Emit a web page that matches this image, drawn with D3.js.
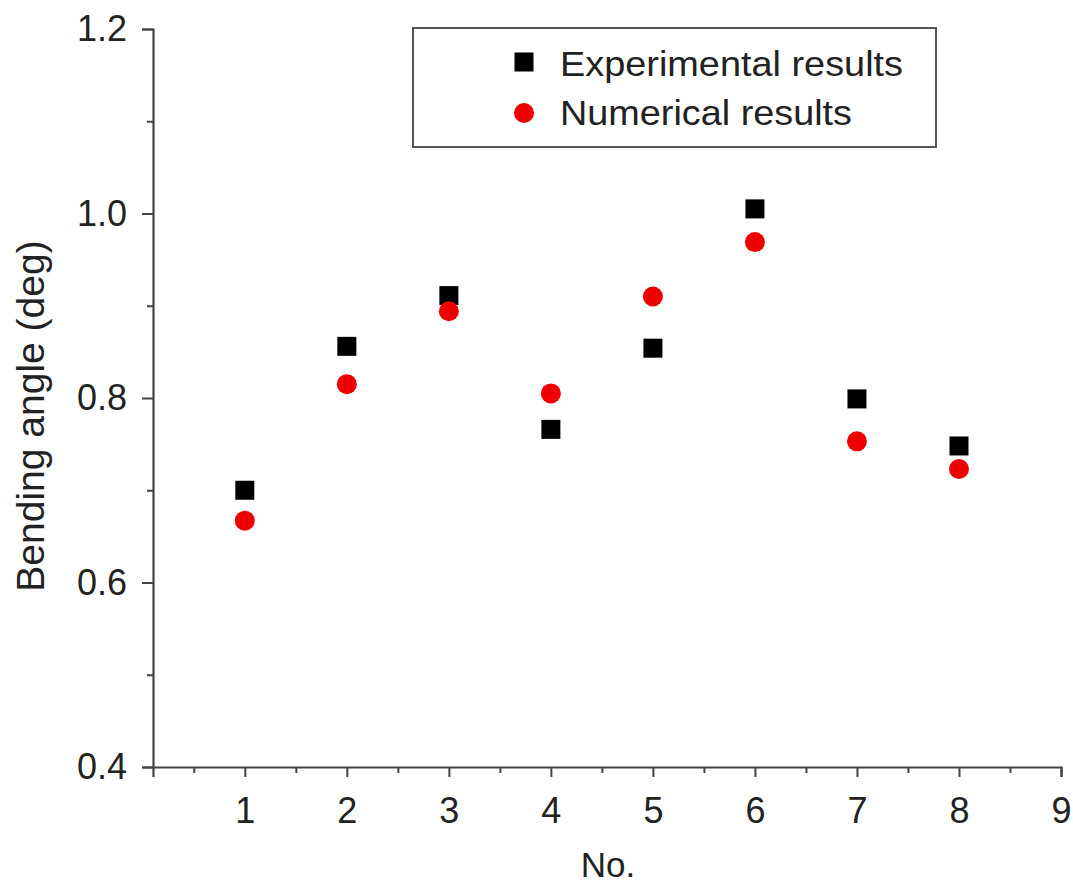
<!DOCTYPE html>
<html>
<head>
<meta charset="utf-8">
<script src="https://cdn.jsdelivr.net/npm/d3@7"></script>
<style>
  html, body { margin: 0; padding: 0; background: #fff; }
  text { font-family: "Liberation Sans", Arial, sans-serif; fill: #222; }
</style>
</head>
<body>
<svg id="chart" width="1073" height="884"></svg>
<script>
// Specimen numbers and bending angles (deg)
const specimens = [1, 2, 3, 4, 5, 6, 7, 8];
const experimental = [0.700, 0.856, 0.911, 0.766, 0.854, 1.005, 0.799, 0.748];
const numerical = [0.667, 0.815, 0.894, 0.805, 0.910, 0.969, 0.753, 0.723];
const xTicks = [1, 2, 3, 4, 5, 6, 7, 8, 9];
const yTicks = [0.4, 0.6, 0.8, 1.0, 1.2];
const seriesNames = ["Experimental results", "Numerical results"];

(function draw() {
  const svg = d3.select("#chart");
  const m = { left: 153, right: 1061, top: 29, bottom: 767 };

  const x = d3.scaleLinear().domain([0.1, 9]).range([m.left, m.right]);
  const y = d3.scaleLinear().domain([0.4, 1.2]).range([m.bottom, m.top]);

  const axisColor = "#444";

  // Minor ticks (half steps)
  const xMinor = d3.range(0.5, 9, 1);
  const yMinor = [0.5, 0.7, 0.9, 1.1];

  const gx = svg.append("g").attr("transform", `translate(0,${m.bottom})`);
  gx.call(d3.axisBottom(x).tickValues(xTicks).tickFormat(d3.format("d")).tickSizeOuter(0).tickSize(10).tickPadding(20));
  gx.append("g").call(d3.axisBottom(x).tickValues(xMinor).tickFormat("").tickSize(6).tickSizeOuter(0))
    .select(".domain").remove();

  const gy = svg.append("g").attr("transform", `translate(${m.left},0)`);
  gy.call(d3.axisLeft(y).tickValues(yTicks).tickFormat(d3.format(".1f")).tickSizeOuter(0).tickSize(11).tickPadding(15));
  gy.append("g").call(d3.axisLeft(y).tickValues(yMinor).tickFormat("").tickSize(6).tickSizeOuter(0))
    .select(".domain").remove();

  svg.selectAll(".domain").attr("stroke", axisColor).attr("stroke-width", 2.2);
  svg.selectAll(".tick line").attr("stroke", axisColor).attr("stroke-width", 2);
  svg.selectAll(".tick text").attr("font-size", 36).attr("fill", "#2a2a2a")
    .attr("font-family", '"Liberation Sans", Arial, sans-serif');

  // Axis titles
  svg.append("text")
    .attr("x", 608).attr("y", 877)
    .attr("text-anchor", "middle").attr("font-size", 35)
    .text("No.");

  svg.append("text")
    .attr("transform", `translate(44,416) rotate(-90)`)
    .attr("text-anchor", "middle").attr("font-size", 39)
    .text("Bending angle (deg)");

  // Markers
  const sq = 19, rad = 10;
  svg.append("g").selectAll("rect").data(specimens).join("rect")
    .attr("x", (d) => x(d) - sq / 2)
    .attr("y", (d, i) => y(experimental[i]) - sq / 2)
    .attr("width", sq).attr("height", sq)
    .attr("fill", "#000");

  svg.append("g").selectAll("circle").data(specimens).join("circle")
    .attr("cx", (d) => x(d))
    .attr("cy", (d, i) => y(numerical[i]))
    .attr("r", rad)
    .attr("fill", "#ee0000");

  // Legend
  const lg = svg.append("g");
  lg.append("rect").attr("x", 413).attr("y", 28).attr("width", 523).attr("height", 119)
    .attr("fill", "none").attr("stroke", "#555").attr("stroke-width", 2);
  lg.append("rect").attr("x", 524 - sq / 2).attr("y", 62 - sq / 2).attr("width", sq).attr("height", sq).attr("fill", "#000");
  lg.append("circle").attr("cx", 524).attr("cy", 113).attr("r", rad).attr("fill", "#ee0000");
  lg.append("text").attr("x", 560).attr("y", 76).attr("font-size", 35).attr("textLength", 343)
    .attr("lengthAdjust", "spacingAndGlyphs").text(seriesNames[0]);
  lg.append("text").attr("x", 560).attr("y", 125).attr("font-size", 35).attr("textLength", 292)
    .attr("lengthAdjust", "spacingAndGlyphs").text(seriesNames[1]);
})();
</script>
</body>
</html>
